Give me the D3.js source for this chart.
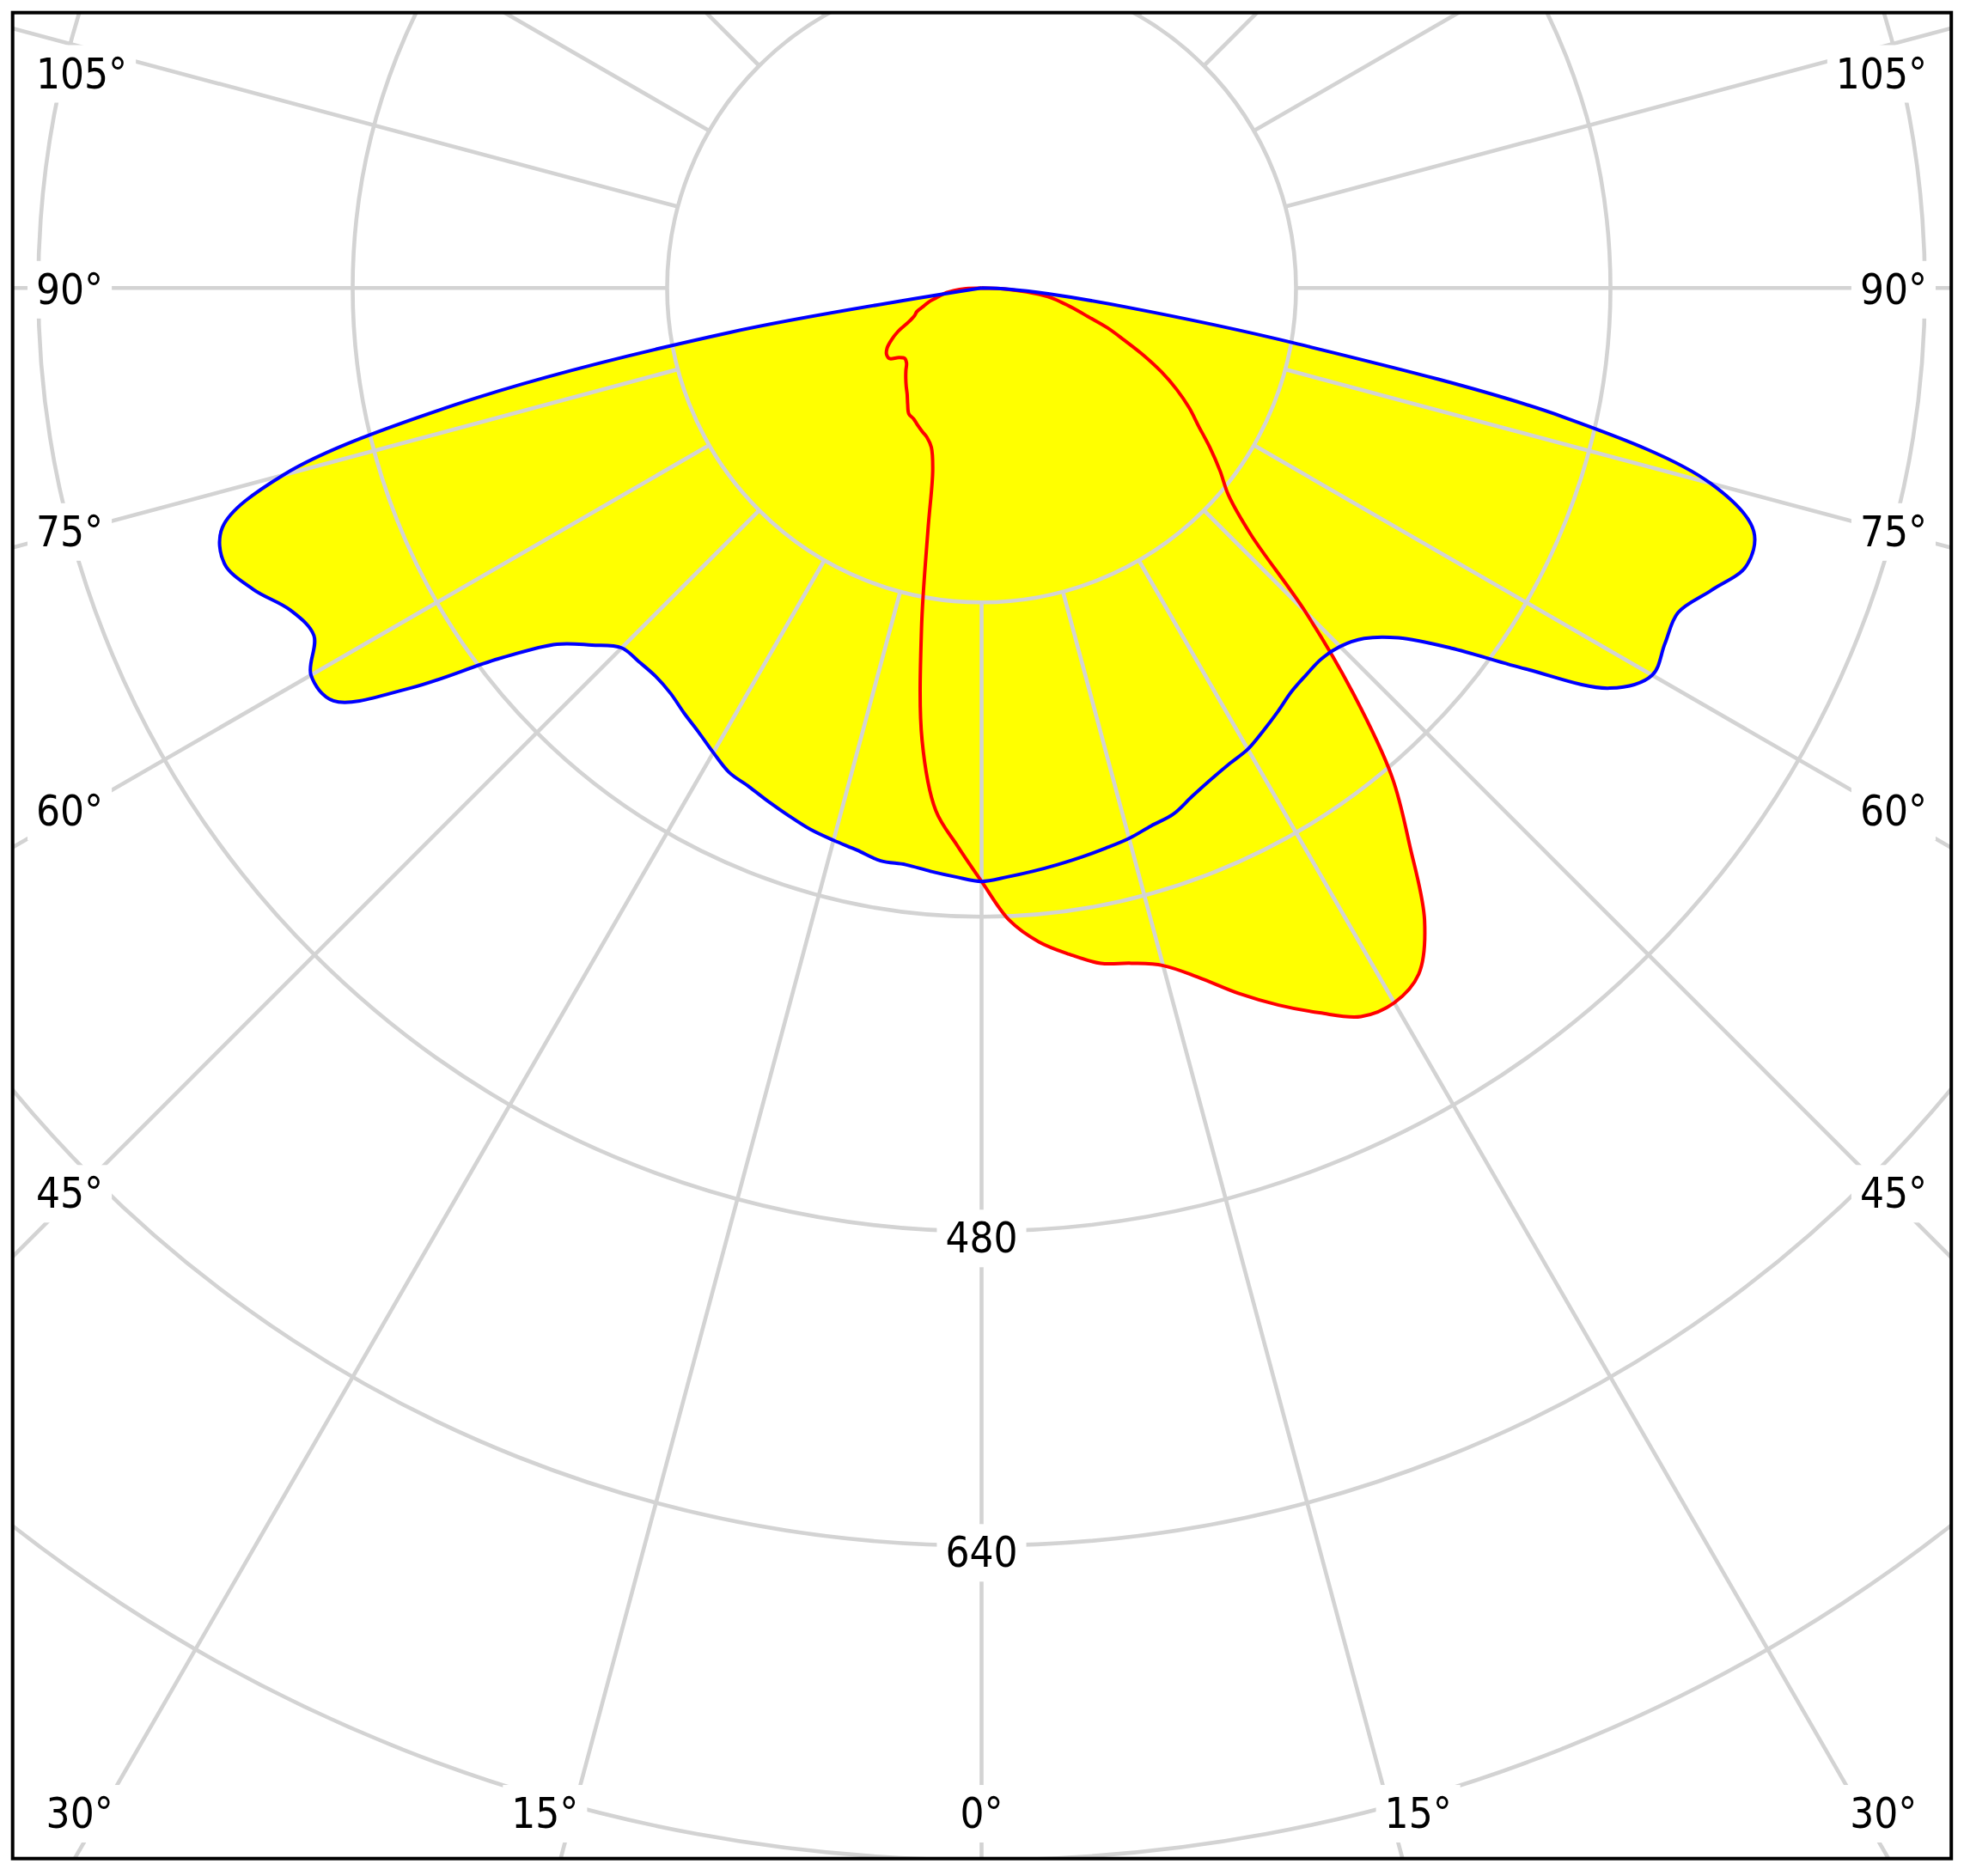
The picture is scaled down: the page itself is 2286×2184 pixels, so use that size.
<!DOCTYPE html>
<html>
<head>
<script src="https://d3js.org/d3.v7.min.js"></script>
<style>
  body { margin: 0; background: #fff; }
  svg text { font-family: "DejaVu Sans Condensed", "Liberation Sans", sans-serif; font-size: 49px; fill: #000; }
</style>
</head>
<body>
<div id="chart"></div>
<script>
// gamma angles in degrees, shared by every half plane
const gamma = [0, 2.5, 5, 7.5, 10, 12.5, 15, 17.5, 20, 22.5, 25, 27.5, 30, 32.5, 35, 37.5, 40, 42.5,
               45, 47.5, 50, 52.5, 55, 57.5, 60, 62.5, 65, 67.5, 70, 72.5, 75, 77.5, 80, 82.5, 85, 87.5, 90]

// luminous intensity (cd) per gamma
const c0   = [302, 300, 298, 296, 294, 292, 290, 287, 285, 280, 276, 273, 271, 267, 263, 259, 257, 256,
              258, 264, 277, 301, 338, 379, 394, 392, 391, 402, 414, 412, 384, 303, 162, 74, 34, 14, 0]
const c180 = [302, 300, 298, 296, 296, 293, 291, 289, 286, 283, 280, 278, 273, 268, 264, 260, 258, 258,
              259, 269, 282, 310, 355, 391, 394, 383, 388, 401, 410, 405, 368, 274, 130, 0, 0, 0, 0]
const c90  = [302, 322, 334, 342, 349, 352, 357, 368, 382, 395, 407, 418, 420, 414, 393, 358, 325, 280,
              233, 186, 164, 153, 142, 131, 122, 112, 101, 89, 77, 67, 56, 48, 41, 34, 23, 12, 0]
const c270 = [302, 284, 267, 232, 176, 126, 96, 85, 81, 79, 77, 75, 74, 70, 66, 63, 60, 57,
              54, 53, 55, 59, 59, 57, 53, 48, 41, 37, 35, 31, 28, 24, 21, 18, 14, 8, 0]

const rings = [160, 320, 480, 640, 800, 960]
const ringLabels = [480, 640]
const angleLabels = [0, 15, 30, 45, 60, 75, 90, 105]

const w = 2286
const h = 2184
const cx = 1142.5
const cy = 335.3
const capH = 37

const r = d3.scaleLinear().domain([0, 160]).range([0, 366])
const rad = d => d * Math.PI / 180

const svg = d3.select('#chart')
              .append('svg')
              .attr('width', w)
              .attr('height', h)

svg.append('clipPath')
   .attr('id', 'clip')
   .append('rect')
   .attr('x', 14.7).attr('y', 14.7)
   .attr('width', 2256.5).attr('height', 2149)

const plot = svg.append('g').attr('clip-path', 'url(#clip)')
const g = plot.append('g').attr('transform', 'translate(' + cx + ',' + cy + ')')

// left half runs from 90 down to 0, right half back up to 90 (0 is straight down)
function plane(left, right) {
    const pts = []
    for (let i = gamma.length - 1; i >= 0; i--) pts.push([Math.PI + rad(gamma[i]), r(left[i])])
    for (let i = 1; i < gamma.length; i++) pts.push([Math.PI - rad(gamma[i]), r(right[i])])
    return pts
}

const radial = d3.lineRadial().curve(d3.curveCatmullRom.alpha(0.5))
const blue = plane(c180, c0)
const red = plane(c270, c90)

g.selectAll('.fill')
 .data([blue, red])
 .enter()
 .append('path')
 .attr('class', 'fill')
 .attr('d', d => radial(d) + 'Z')
 .style('fill', '#ffff00')

// grid
g.selectAll('.ring')
 .data(rings)
 .enter()
 .append('circle')
 .attr('r', d => r(d))
 .style('fill', 'none')
 .style('stroke', '#d3d3d3')
 .style('stroke-width', 4.6)

g.selectAll('.spoke')
 .data(d3.range(0, 360, 15))
 .enter()
 .append('line')
 .attr('x1', a => r(160) * Math.sin(rad(a)))
 .attr('y1', a => -r(160) * Math.cos(rad(a)))
 .attr('x2', a => 4000 * Math.sin(rad(a)))
 .attr('y2', a => -4000 * Math.cos(rad(a)))
 .style('stroke', '#d3d3d3')
 .style('stroke-width', 4.6)

// angle labels sit where the spoke meets an inset box
const labels = []
angleLabels.forEach(a => {
    const sides = a === 0 ? [0] : [-1, 1]
    sides.forEach(s => {
        const dx = Math.sin(rad(a)), dy = Math.cos(rad(a))
        const tSide = dx > 1e-6 ? (cx - 90) / dx : Infinity
        const tBot = dy > 1e-6 ? (2086 - cy) / dy : Infinity
        if (tSide < tBot) {
            labels.push({
                text: a + '°',
                x: s < 0 ? 42 : 2 * cx - 42,
                y: Math.max(84, cy + tSide * dy) + capH / 2,
                anchor: s < 0 ? 'start' : 'end'
            })
        } else {
            labels.push({
                text: a + '°',
                x: cx + s * tBot * dx,
                y: 2128,
                anchor: s < 0 ? 'end' : (s > 0 ? 'start' : 'middle')
            })
        }
    })
})
ringLabels.forEach(v => {
    labels.push({ text: String(v), x: cx, y: cy + r(v) + 25, anchor: 'middle' })
})

const lab = plot.selectAll('.lab')
                .data(labels)
                .enter()
                .append('g')
                .attr('class', 'lab')

lab.append('text')
   .attr('x', d => d.x)
   .attr('y', d => d.y)
   .attr('text-anchor', d => d.anchor)
   .text(d => d.text)

lab.each(function () {
    const grp = d3.select(this)
    const bb = grp.select('text').node().getBBox()
    grp.insert('rect', 'text')
       .attr('x', bb.x - 10)
       .attr('y', bb.y - 5)
       .attr('width', bb.width + 20)
       .attr('height', bb.height + 10)
       .style('fill', '#fff')
})

// curves on top
g.append('path')
 .attr('d', radial(red))
 .style('fill', 'none')
 .style('stroke', '#ff0000')
 .style('stroke-width', 4)
 .style('stroke-linejoin', 'round')

g.append('path')
 .attr('d', radial(blue))
 .style('fill', 'none')
 .style('stroke', '#0000ff')
 .style('stroke-width', 4)
 .style('stroke-linejoin', 'round')

svg.append('rect')
   .attr('x', 14.7).attr('y', 14.7)
   .attr('width', 2256.5).attr('height', 2149)
   .style('fill', 'none')
   .style('stroke', '#000')
   .style('stroke-width', 4)
</script>
</body>
</html>
